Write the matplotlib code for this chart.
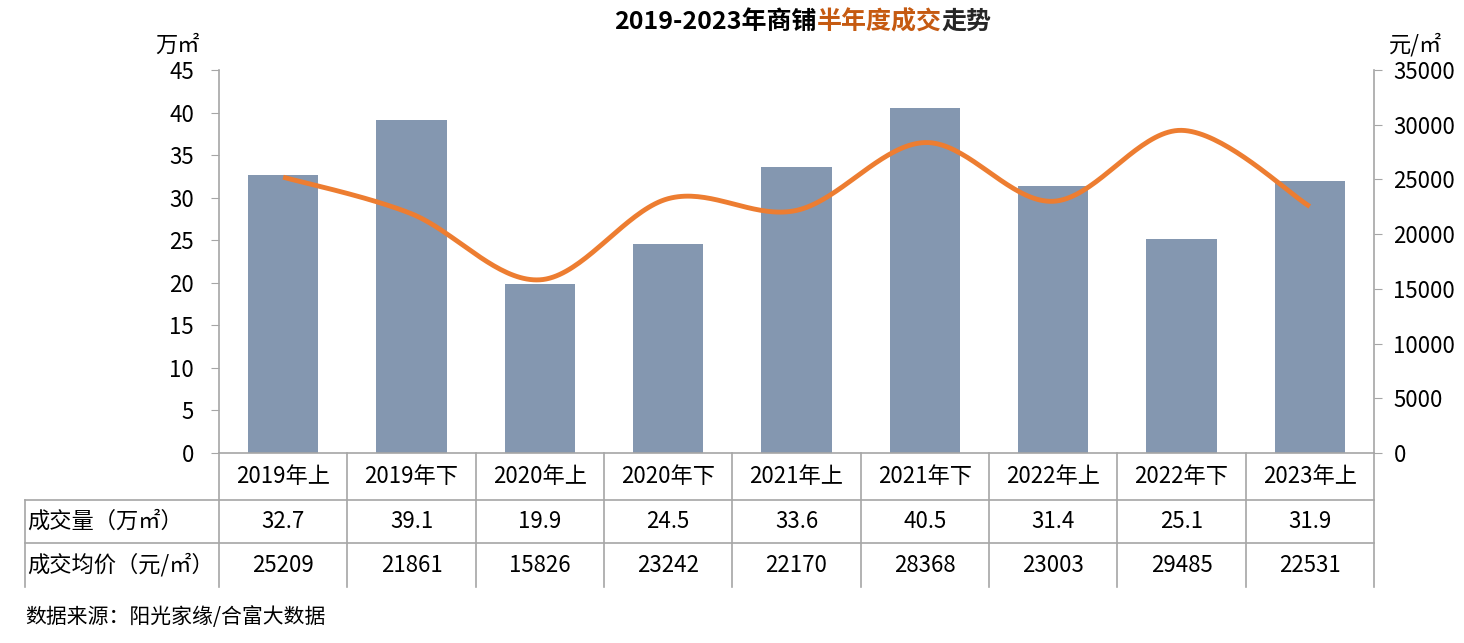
import numpy as np
import matplotlib.pyplot as plt
from matplotlib.transforms import blended_transform_factory
from matplotlib.lines import Line2D

plt.rcParams['font.family'] = ['Noto Sans CJK SC', 'DejaVu Sans']

categories = ['2019年上', '2019年下', '2020年上', '2020年下', '2021年上',
              '2021年下', '2022年上', '2022年下', '2023年上']
volume = [32.7, 39.1, 19.9, 24.5, 33.6, 40.5, 31.4, 25.1, 31.9]
price = [25209, 21861, 15826, 23242, 22170, 28368, 23003, 29485, 22531]
row_labels = ['成交量（万㎡）', '成交均价（元/㎡）']
title_parts = ['2019-2023年商铺', '半年度成交', '走势']
title_colors = ['black', '#C55A11', '#262626']

bar_color = '#8497B0'
line_color = '#ED7D31'
grid_color = '#A6A6A6'
fs = 16


def smooth_curve(xs, ys, n=40):
    # excel-like smoothed line: catmull-rom as cubic bezier segments
    pts = np.column_stack([xs, ys]).astype(float)
    ext = np.vstack([pts[0], pts, pts[-1]])
    out = []
    for i in range(len(pts) - 1):
        p0, p1, p2, p3 = ext[i], ext[i + 1], ext[i + 2], ext[i + 3]
        c1 = p1 + (p2 - p0) / 6
        c2 = p2 - (p3 - p1) / 6
        t = np.linspace(0, 1, n)[:, None]
        seg = ((1 - t) ** 3) * p1 + 3 * ((1 - t) ** 2) * t * c1 \
            + 3 * (1 - t) * t ** 2 * c2 + t ** 3 * p2
        out.append(seg if i == 0 else seg[1:])
    out = np.vstack(out)
    return out[:, 0], out[:, 1]


fig = plt.figure(figsize=(14.64, 6.43), dpi=100)
ax = fig.add_axes([219 / 1464, 1 - 453 / 643, 1155 / 1464, 383 / 643])
x = np.arange(len(categories))
ax.bar(x, volume, width=0.55, color=bar_color, zorder=2)
ax.set_xlim(-0.5, len(categories) - 0.5)
ax.set_ylim(0, 45)
ax.set_yticks(np.arange(0, 46, 5))
ax.set_xticks([])
ax.tick_params(axis='y', labelsize=fs, length=6, color=grid_color, pad=12)
for s in ['top', 'right']:
    ax.spines[s].set_visible(False)
for s in ['left', 'bottom']:
    ax.spines[s].set_color(grid_color)
    ax.spines[s].set_linewidth(1.2)

ax2 = ax.twinx()
sx, sy = smooth_curve(x, price)
ax2.plot(sx, sy, color=line_color, lw=3.5, solid_capstyle='butt', zorder=3)
ax2.set_ylim(0, 35000)
ax2.set_yticks(np.arange(0, 35001, 5000))
ax2.tick_params(axis='y', labelsize=fs, length=6, color=grid_color, pad=8)
for s in ['top', 'left', 'bottom']:
    ax2.spines[s].set_visible(False)
ax2.spines['right'].set_color(grid_color)
ax2.spines['right'].set_linewidth(1.2)

# data table below the plot
tr = blended_transform_factory(ax.transData, ax.transAxes)
px = 383.0
y_head = -47 / px
y_row1 = -90 / px
y_row2 = -134 / px
x_left = -0.5 - 194 / 128.33
x_right = len(categories) - 0.5
lkw = dict(color=grid_color, lw=1.2, transform=tr, clip_on=False)
for b in np.arange(-0.5, len(categories), 1.0):
    ax.add_line(Line2D([b, b], [0, y_row2], **lkw))
ax.add_line(Line2D([x_left, x_left], [y_head, y_row2], **lkw))
ax.add_line(Line2D([x_left, x_right], [y_head, y_head], **lkw))
ax.add_line(Line2D([x_left, x_right], [y_row1, y_row1], **lkw))

for i, c in enumerate(categories):
    ax.text(i, y_head / 2, c, transform=tr, ha='center', va='center', fontsize=fs)
    ax.text(i, (y_head + y_row1) / 2, f'{volume[i]:.1f}', transform=tr,
            ha='center', va='center', fontsize=fs)
    ax.text(i, (y_row1 + y_row2) / 2, f'{price[i]}', transform=tr,
            ha='center', va='center', fontsize=fs)
ax.text(x_left + 0.02, (y_head + y_row1) / 2, row_labels[0], transform=tr,
        ha='left', va='center', fontsize=fs)
ax.text(x_left + 0.02, (y_row1 + y_row2) / 2, row_labels[1], transform=tr,
        ha='left', va='center', fontsize=fs)

# axis unit labels
fig.text(178 / 1464, 1 - 45 / 643, '万㎡', ha='center', va='center', fontsize=fs)
fig.text(1416 / 1464, 1 - 45 / 643, '元/㎡', ha='center', va='center', fontsize=fs)

# multi-coloured title, pieces placed side by side
fig.canvas.draw()
renderer = fig.canvas.get_renderer()
xpos = 614.0
for part, col in zip(title_parts, title_colors):
    t = fig.text(xpos / 1464, 1 - 22 / 643, part, ha='left', va='center',
                 fontsize=18, fontweight='bold', color=col)
    xpos += t.get_window_extent(renderer).width

fig.text(25 / 1464, 1 - 617 / 643, '数据来源：阳光家缘/合富大数据', ha='left',
         va='center', fontsize=15)

fig.savefig('out.png', dpi=100)
